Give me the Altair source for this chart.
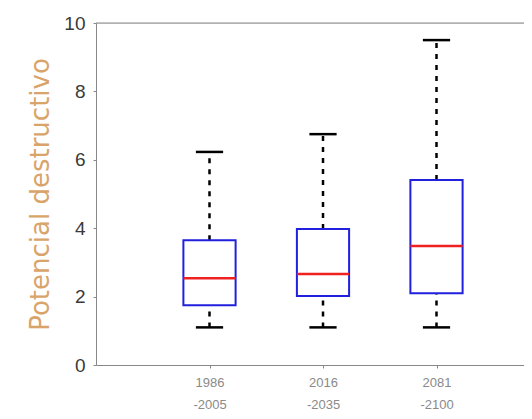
import altair as alt
import pandas as pd

periods_start = ["1986", "2016", "2081"]
periods_end = ["-2005", "-2035", "-2100"]
positions = [1, 2, 3]
whisker_low = [1.1, 1.1, 1.1]
q1 = [1.75, 2.02, 2.1]
median = [2.54, 2.66, 3.48]
q3 = [3.65, 3.98, 5.41]
whisker_high = [6.23, 6.75, 9.5]

df = pd.DataFrame({
    "pos": positions,
    "lo": whisker_low,
    "q1": q1,
    "med": median,
    "q3": q3,
    "hi": whisker_high,
})

W = 428
H = 342
UNIT = 113.5
xmax = W / UNIT

label_expr = " : ".join(
    f"datum.value == {p} ? ['{s}', '{e}']" for p, s, e in zip(positions, periods_start, periods_end)
) + " : ''"

xscale = alt.Scale(domain=[0, xmax], nice=False, zero=False)
yscale = alt.Scale(domain=[0, 10], nice=False)

xaxis = alt.Axis(
    values=positions, labelExpr=label_expr, title=None, grid=False,
    domainColor="#888888", tickColor="#888888", tickSize=3,
    labelFont="Liberation Sans", labelFontSize=13, labelColor="#8a8a8a",
    labelPadding=8, labelLineHeight=22,
)
yaxis = alt.Axis(
    values=[0, 2, 4, 6, 8, 10], title="Potencial destructivo", grid=False,
    domainColor="#888888", tickColor="#888888", tickSize=3,
    labelFont="Liberation Sans", labelFontSize=19, labelColor="#3a3a3a",
    labelPadding=8, titleFont="DejaVu Sans", titleFontSize=26,
    titleFontWeight="normal", titleColor="#D9A46A", titlePadding=10,
)

base = alt.Chart(df).transform_calculate(
    bx1="datum.pos - 0.23", bx2="datum.pos + 0.23",
    cx1="datum.pos - 0.12", cx2="datum.pos + 0.12",
)

whisk_hi = base.mark_rule(color="black", strokeWidth=2.5, strokeDash=[5, 6]).encode(
    x=alt.X("pos:Q", scale=xscale, axis=xaxis),
    y=alt.Y("q3:Q", scale=yscale, axis=yaxis),
    y2="hi:Q",
)
whisk_lo = base.mark_rule(color="black", strokeWidth=2.5, strokeDash=[5, 6]).encode(
    x=alt.X("pos:Q", scale=xscale), y=alt.Y("lo:Q", scale=yscale), y2="q1:Q"
)
cap_hi = base.mark_rule(color="black", strokeWidth=2.5).encode(
    x=alt.X("cx1:Q", scale=xscale), x2="cx2:Q", y=alt.Y("hi:Q", scale=yscale)
)
cap_lo = base.mark_rule(color="black", strokeWidth=2.5).encode(
    x=alt.X("cx1:Q", scale=xscale), x2="cx2:Q", y=alt.Y("lo:Q", scale=yscale)
)
box = base.mark_rect(fill="white", stroke="#2020dd", strokeWidth=2).encode(
    x=alt.X("bx1:Q", scale=xscale), x2="bx2:Q",
    y=alt.Y("q1:Q", scale=yscale), y2="q3:Q",
)
med = base.mark_rule(color="#ee2020", strokeWidth=2.5).encode(
    x=alt.X("bx1:Q", scale=xscale), x2="bx2:Q", y=alt.Y("med:Q", scale=yscale)
)
top = alt.Chart(pd.DataFrame({"t": [10]})).mark_rule(color="#888888", strokeWidth=1).encode(
    y=alt.Y("t:Q", scale=yscale), x=alt.value(0), x2=alt.value(W)
)

chart = alt.layer(top, whisk_hi, whisk_lo, cap_hi, cap_lo, box, med).properties(
    width=W, height=H,
    autosize=alt.AutoSizeParams(type="none"),
    padding={"left": 88, "top": 15, "right": 0, "bottom": 46},
).configure_view(stroke=None).configure(background="white")

chart.save("out.html", embed_options={"renderer": "svg", "actions": False})
